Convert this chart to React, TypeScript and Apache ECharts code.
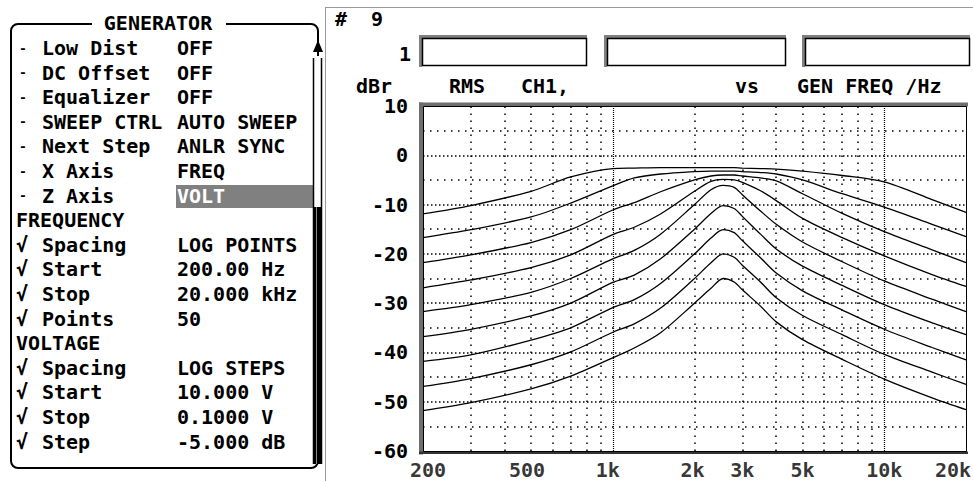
import React, { useEffect, useRef } from 'react';
import * as echarts from 'echarts';

// ---------- data ----------
const FREQS = [200, 300, 500, 700, 1000, 1200, 1500, 2000, 2300, 2550, 2800, 3000, 3500, 4000, 5000, 7000, 10000, 15000, 20000];

const SWEEP_1 = [-11.9, -10.2, -7.3, -4.4, -2.7, -2.6, -2.5, -2.5, -2.5, -2.5, -2.5, -2.6, -2.7, -2.8, -3.2, -4.1, -5.4, -9.0, -11.6];
const SWEEP_2 = [-16.7, -15.1, -12.5, -9.7, -6.2, -4.6, -3.8, -3.3, -3.2, -3.2, -3.2, -3.3, -3.5, -3.8, -5.0, -7.8, -10.5, -14.0, -16.5];
const SWEEP_3 = [-21.8, -20.2, -17.7, -15.1, -11.1, -9.6, -7.4, -5.0, -4.2, -4.0, -4.0, -4.2, -4.6, -5.2, -7.8, -11.8, -15.5, -19.2, -21.8];
const SWEEP_4 = [-26.9, -25.3, -22.8, -20.2, -16.1, -14.6, -11.9, -7.3, -5.3, -4.9, -5.0, -5.5, -7.2, -9.2, -12.8, -16.7, -20.4, -24.2, -26.6];
const SWEEP_5 = [-31.7, -30.3, -27.8, -25.0, -21.0, -19.3, -16.0, -10.0, -7.0, -6.1, -6.5, -8.0, -11.3, -14.0, -17.6, -21.6, -25.5, -29.2, -31.7];
const SWEEP_6 = [-36.8, -35.3, -32.6, -30.0, -25.8, -24.3, -21.0, -15.0, -11.8, -10.2, -10.8, -12.4, -16.0, -19.0, -22.5, -26.4, -30.3, -34.0, -36.4];
const SWEEP_7 = [-41.8, -40.5, -37.5, -35.0, -30.9, -29.3, -26.0, -20.0, -16.8, -15.1, -15.7, -17.3, -20.8, -23.9, -27.5, -31.4, -35.3, -39.0, -41.5];
const SWEEP_8 = [-46.9, -45.3, -42.5, -39.9, -35.9, -34.2, -31.0, -25.0, -21.8, -20.0, -20.7, -22.3, -25.7, -28.9, -32.5, -36.4, -40.4, -44.0, -46.5];
const SWEEP_9 = [-51.8, -50.2, -47.4, -44.8, -41.1, -39.1, -36.0, -30.0, -27.0, -25.0, -25.7, -27.3, -30.6, -33.8, -37.4, -41.4, -45.4, -49.2, -51.6];

const SWEEPS = [SWEEP_1, SWEEP_2, SWEEP_3, SWEEP_4, SWEEP_5, SWEEP_6, SWEEP_7, SWEEP_8, SWEEP_9];

const X_TICKS = [200, 500, 1000, 2000, 3000, 5000, 10000, 20000];
const X_TICK_LABELS = ['200', '500', '1k', '2k', '3k', '5k', '10k', '20k'];
const X_GRID_MINOR = [300, 400, 500, 600, 700, 800, 900, 2000, 3000, 4000, 5000, 6000, 7000, 8000, 9000];
const X_GRID_DECADE = [1000, 10000];
const Y_MIN = -60;
const Y_MAX = 10;
const Y_GRID_MAJOR = [0, -10, -20, -30, -40, -50];
const Y_GRID_MINOR = [5, -5, -15, -25, -35, -45, -55];

const GEN_LABELS = ['Low Dist', 'DC Offset', 'Equalizer', 'SWEEP CTRL', 'Next Step', 'X Axis', 'Z Axis'];
const GEN_VALUES = ['OFF', 'OFF', 'OFF', 'AUTO SWEEP', 'ANLR SYNC', 'FREQ', 'VOLT'];
const FREQ_LABELS = ['Spacing', 'Start', 'Stop', 'Points'];
const FREQ_VALUES = ['LOG POINTS', '200.00 Hz', '20.000 kHz', '50'];
const VOLT_LABELS = ['Spacing', 'Start', 'Stop', 'Step'];
const VOLT_VALUES = ['LOG STEPS', '10.000 V', '0.1000 V', '-5.000 dB'];

// ---------- styling ----------
const FAM = '"DejaVu Sans Mono", "Liberation Mono", monospace';
const FONT = `bold 20px ${FAM}`;
const GRID_L = 423;
const GRID_T = 106;
const GRID_W = 543;
const GRID_H = 345;
// horizontal nudges (px) for the frequency tick labels, like the instrument's text grid
const X_LABEL_PADDING = [
  [0, 0, 0, 10],
  [0, 8, 0, 0],
  [0, 10, 0, 0],
  [0, 4, 0, 0],
  [0, 0, 0, 0],
  [0, 0, 0, 0],
  [0, 0, 0, 0],
  [0, 26, 0, 0],
];

function txt(text: string, x: number, y: number, extra: any = {}) {
  return {
    type: 'text',
    x,
    y,
    silent: true,
    z: 10,
    style: { text, font: FONT, fill: '#000', verticalAlign: 'middle', align: 'left', ...extra },
  };
}

function buildGraphic() {
  const g: any[] = [];
  const rowY = (i: number) => 48 + 24.6 * i;

  // generator panel frame
  g.push({
    type: 'rect',
    z: 5,
    shape: { x: 11, y: 24, width: 307, height: 444, r: 7 },
    style: { fill: 'none', stroke: '#000', lineWidth: 2 },
    silent: true,
  });
  g.push({ type: 'rect', z: 6, shape: { x: 92, y: 14, width: 134, height: 18 }, style: { fill: '#fff' }, silent: true });
  g.push(txt('GENERATOR', 158, 23, { align: 'center' }));

  // highlight for VOLT
  g.push({ type: 'rect', z: 6, shape: { x: 176, y: 185, width: 138, height: 23 }, style: { fill: '#808080' }, silent: true });

  GEN_LABELS.forEach((l, i) => {
    g.push(txt('-', 19, rowY(i), { font: `bold 13px ${FAM}` }));
    g.push(txt(l, 42, rowY(i)));
    g.push(txt(GEN_VALUES[i], 177, rowY(i), { fill: i === 6 ? '#fff' : '#000' }));
  });
  g.push(txt('FREQUENCY', 16, rowY(7)));
  FREQ_LABELS.forEach((l, i) => {
    g.push(txt('√', 16, rowY(8 + i)));
    g.push(txt(l, 42, rowY(8 + i)));
    g.push(txt(FREQ_VALUES[i], 177, rowY(8 + i)));
  });
  g.push(txt('VOLTAGE', 16, rowY(12)));
  VOLT_LABELS.forEach((l, i) => {
    g.push(txt('√', 16, rowY(13 + i)));
    g.push(txt(l, 42, rowY(13 + i)));
    g.push(txt(VOLT_VALUES[i], 177, rowY(13 + i)));
  });

  // scrollbar
  g.push({ type: 'rect', z: 7, shape: { x: 313, y: 56, width: 9, height: 408 }, style: { fill: '#fff' }, silent: true });
  g.push({ type: 'polygon', z: 7, shape: { points: [[318, 40], [313, 52], [323, 52]] }, style: { fill: '#000' }, silent: true });
  g.push({ type: 'line', z: 8, shape: { x1: 313.5, y1: 58, x2: 313.5, y2: 464 }, style: { stroke: '#000', lineWidth: 1.5 }, silent: true });
  g.push({ type: 'line', z: 8, shape: { x1: 321.5, y1: 58, x2: 321.5, y2: 464 }, style: { stroke: '#000', lineWidth: 1.5 }, silent: true });
  g.push({ type: 'rect', z: 8, shape: { x: 313, y: 207, width: 9, height: 257 }, style: { fill: '#000' }, silent: true });
  g.push({ type: 'line', z: 9, shape: { x1: 316.5, y1: 207, x2: 316.5, y2: 464 }, style: { stroke: '#888', lineWidth: 1 }, silent: true });

  // chart panel border
  g.push({ type: 'line', z: 5, shape: { x1: 325.5, y1: 7, x2: 325.5, y2: 481 }, style: { stroke: '#9a9a9a', lineWidth: 1 }, silent: true });
  g.push({ type: 'line', z: 5, shape: { x1: 325, y1: 7.5, x2: 973, y2: 7.5 }, style: { stroke: '#9a9a9a', lineWidth: 1 }, silent: true });

  // header
  g.push(txt('#', 335, 19));
  g.push(txt('9', 371, 19));
  g.push(txt('1', 399, 54));
  const boxes = [[422, 586], [607, 785], [805, 969]];
  boxes.forEach(([a, b]) => {
    g.push({
      type: 'polyline',
      z: 5,
      shape: { points: [[a - 1.5, 67], [a - 1.5, 36.5], [b + 1, 36.5]] },
      style: { stroke: '#808080', lineWidth: 3, fill: 'none' },
      silent: true,
    });
    g.push({
      type: 'rect',
      z: 6,
      shape: { x: a + 0.5, y: 38.5, width: b - a, height: 27 },
      style: { fill: '#fff', stroke: '#000', lineWidth: 1.5 },
      silent: true,
    });
  });
  g.push(txt('dBr', 356, 86));
  g.push(txt('RMS', 449, 86));
  g.push(txt('CH1,', 521, 86));
  g.push(txt('vs', 735, 86));
  g.push(txt('GEN FREQ /Hz', 797, 86));

  // plot frame (3D look)
  g.push({ type: 'rect', z: 5, shape: { x: 419, y: 102.5, width: 4, height: 352 }, style: { fill: '#6e6e6e' }, silent: true });
  g.push({ type: 'rect', z: 5, shape: { x: 419, y: 102.5, width: 549, height: 4 }, style: { fill: '#6e6e6e' }, silent: true });
  g.push({ type: 'rect', z: 5, shape: { x: 419, y: 451.5, width: 549, height: 2.5 }, style: { fill: '#333' }, silent: true });
  g.push({
    type: 'rect',
    z: 6,
    shape: { x: GRID_L + 0.5, y: GRID_T + 0.5, width: GRID_W, height: GRID_H },
    style: { fill: 'none', stroke: '#000', lineWidth: 1 },
    silent: true,
  });
  return g;
}

function buildMarkLines() {
  const data: any[] = [];
  Y_GRID_MAJOR.forEach((v) => data.push({ yAxis: v, lineStyle: { type: [1.5, 2.5] }, label: { show: false } }));
  Y_GRID_MINOR.forEach((v) => data.push({ yAxis: v, lineStyle: { type: [1.5, 5.5] }, label: { show: false } }));
  X_GRID_MINOR.forEach((v) => data.push({ xAxis: v, lineStyle: { type: [1.5, 5.5] }, label: { show: false } }));
  X_GRID_DECADE.forEach((v) => data.push({ xAxis: v, lineStyle: { type: [1, 1], width: 1.2 }, label: { show: false } }));
  return data;
}

export default function App() {
  const ref = useRef<HTMLDivElement>(null);
  useEffect(() => {
    if (!ref.current) return;
    const chart = echarts.init(ref.current, undefined, { renderer: 'svg' });
    const series: any[] = SWEEPS.map((arr, k) => ({
      type: 'line',
      name: `Sweep ${k + 1}`,
      data: FREQS.map((f, i) => [f, arr[i]]),
      showSymbol: false,
      smooth: 0.3,
      clip: true,
      lineStyle: { color: '#000', width: 1.3 },
      z: 5,
    }));
    series.unshift({
      type: 'line',
      name: 'grid',
      data: [],
      silent: true,
      clip: false,
      z: 2,
      markLine: {
        silent: true,
        symbol: ['none', 'none'],
        animation: false,
        lineStyle: { color: '#000', width: 1.5, opacity: 1 },
        data: buildMarkLines(),
      },
    });
    // frequency tick labels, placed through the log x axis at the bottom of the plot
    series.push({
      type: 'scatter',
      name: 'freq ticks',
      silent: true,
      clip: false,
      z: 6,
      symbolSize: 0,
      data: X_TICKS.map((f, i) => ({
        value: [f, Y_MIN],
        label: { padding: X_LABEL_PADDING[i] },
      })),
      label: {
        show: true,
        position: 'bottom',
        distance: 9,
        formatter: (p: any) => X_TICK_LABELS[p.dataIndex],
        color: '#000',
        fontFamily: FAM,
        fontWeight: 'bold',
        fontSize: 20,
      },
    });
    chart.setOption({
      animation: false,
      backgroundColor: '#fff',
      grid: { left: GRID_L, top: GRID_T, width: GRID_W, height: GRID_H, show: false },
      xAxis: {
        type: 'log',
        logBase: 10,
        min: 200,
        max: 20000,
        axisLine: { show: false },
        axisTick: { show: false },
        splitLine: { show: false },
        axisLabel: { show: false },
      },
      yAxis: {
        type: 'value',
        min: Y_MIN,
        max: Y_MAX,
        interval: 10,
        axisLine: { show: false },
        axisTick: { show: false },
        splitLine: { show: false },
        axisLabel: {
          margin: 15,
          color: '#000',
          fontFamily: FAM,
          fontWeight: 'bold',
          fontSize: 20,
          formatter: (v: number) => String(v),
        },
      },
      graphic: buildGraphic(),
      series,
    });
    return () => chart.dispose();
  }, []);
  return <div ref={ref} style={{ position: 'fixed', left: 0, top: 0, width: 973, height: 481 }} />;
}
